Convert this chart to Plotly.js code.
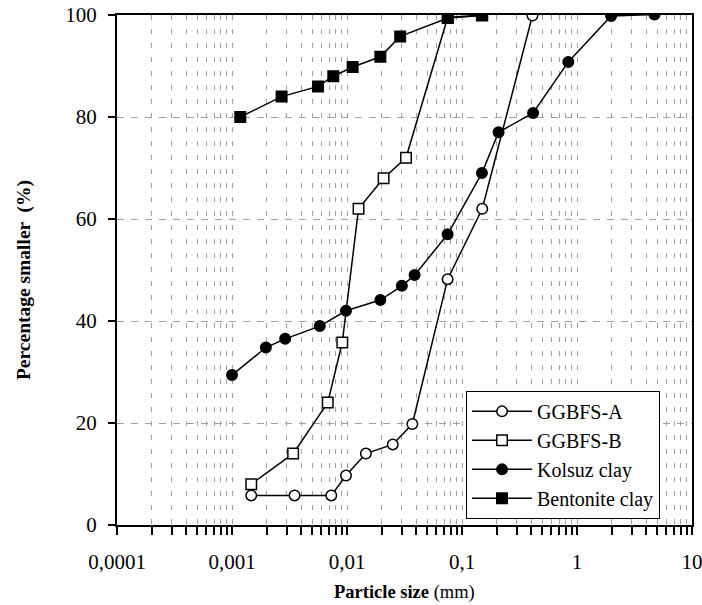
<!DOCTYPE html>
<html>
<head>
<meta charset="utf-8">
<script src="https://cdn.plot.ly/plotly-3.0.1.min.js"></script>
<style>html,body{margin:0;padding:0;background:#fff;}#chart{width:702px;height:605px;}</style>
</head>
<body>
<div id="chart"></div>
<script>
// Particle size (mm) and percentage smaller (%)
const ggbfsA_x = [0.00147, 0.0035, 0.0073, 0.0098, 0.0146, 0.025, 0.037, 0.075, 0.15, 0.41];
const ggbfsA_y = [5.8, 5.8, 5.8, 9.7, 14, 15.8, 19.8, 48.2, 62, 99.9];

const ggbfsB_x = [0.00147, 0.0034, 0.0068, 0.0091, 0.0126, 0.0208, 0.0326, 0.075, 0.15];
const ggbfsB_y = [8, 14, 24, 35.8, 62, 68, 72, 99.5, 100];

const kolsuz_x = [0.001, 0.00197, 0.0029, 0.0058, 0.0098, 0.0195, 0.030, 0.0387, 0.075, 0.149, 0.208, 0.415, 0.84, 1.98, 4.72];
const kolsuz_y = [29.4, 34.8, 36.5, 39, 42, 44.1, 46.9, 49, 57, 69, 77, 80.8, 90.8, 99.8, 100.1];

const bentonite_x = [0.00118, 0.0027, 0.0056, 0.0076, 0.0112, 0.0195, 0.029, 0.0755, 0.149];
const bentonite_y = [80, 84, 86, 88, 89.8, 91.8, 95.8, 99.4, 99.9];

const xTickVals = [0.0001, 0.001, 0.01, 0.1, 1, 10];
const xTickText = ['0,0001', '0,001', '0,01', '0,1', '1', '10'];
const yTickVals = [0, 20, 40, 60, 80, 100];

const seriesNames = ['GGBFS-A', 'GGBFS-B', 'Kolsuz clay', 'Bentonite clay'];

const serif = '"Liberation Serif"';
function mk(x, y, name, symbol, fill) {
  return {
    x: x, y: y, name: name, type: 'scatter', mode: 'lines+markers',
    line: {color: 'black', width: 1.5},
    marker: {symbol: symbol, size: 10.5, color: fill, line: {color: 'black', width: 1.5}}
  };
}
const traces = [
  mk(ggbfsA_x, ggbfsA_y, seriesNames[0], 'circle', 'white'),
  mk(ggbfsB_x, ggbfsB_y, seriesNames[1], 'square', 'white'),
  mk(kolsuz_x, kolsuz_y, seriesNames[2], 'circle', 'black'),
  mk(bentonite_x, bentonite_y, seriesNames[3], 'square', 'black')
];

const layout = {
  width: 702, height: 605,
  margin: {l: 117, r: 10, t: 15, b: 80},
  paper_bgcolor: 'white', plot_bgcolor: 'white',
  font: {family: serif, color: 'black', size: 21},
  showlegend: true,
  legend: {
    x: 0.607, y: 0.263, xanchor: 'left', yanchor: 'top',
    bgcolor: 'white', bordercolor: 'black', borderwidth: 1,
    font: {family: serif, size: 20, color: 'black'},
    itemwidth: 60,
    tracegroupgap: 0
  },
  xaxis: {
    type: 'log', range: [-4, 1],
    tickmode: 'array', tickvals: xTickVals, ticktext: xTickText,
    ticks: 'outside', ticklen: 8, tickwidth: 2, tickcolor: 'black',
    showline: true, linecolor: 'black', linewidth: 2, mirror: true,
    showgrid: true, gridcolor: '#a0a0a0', gridwidth: 1, griddash: '5px,9px',
    zeroline: false,
    ticklabelstandoff: 9,
    ticklabeloverflow: 'allow',
    tickfont: {family: serif, size: 21, color: 'black'},
    minor: {
      dtick: 'D1', ticks: 'outside', ticklen: 8, tickwidth: 2, tickcolor: 'black',
      showgrid: true, gridcolor: '#a0a0a0', gridwidth: 1, griddash: '5px,9px'
    }
  },
  yaxis: {
    range: [0, 100],
    tickmode: 'array', tickvals: yTickVals,
    ticks: 'outside', ticklen: 7, tickwidth: 2, tickcolor: 'black',
    showline: true, linecolor: 'black', linewidth: 2, mirror: true,
    showgrid: true, gridcolor: '#a0a0a0', gridwidth: 1, griddash: '7px,7px',
    zeroline: false,
    ticklabelstandoff: 7,
    tickfont: {family: serif, size: 21, color: 'black'}
  },
  annotations: [{
    text: '<b>Percentage smaller  (%)</b>',
    xref: 'paper', yref: 'paper',
    x: -0.162, y: 0.48, xanchor: 'center', yanchor: 'middle',
    textangle: -90, showarrow: false,
    font: {family: serif, size: 19.5, color: 'black'}
  }, {
    text: '<b>Particle size</b> (mm)',
    xref: 'paper', yref: 'paper',
    x: 0.5, y: -0.1333, xanchor: 'center', yanchor: 'middle',
    showarrow: false,
    font: {family: serif, size: 18.5, color: 'black'}
  }]
};

Plotly.newPlot('chart', traces, layout, {displayModeBar: false, staticPlot: true});
</script>
</body>
</html>
